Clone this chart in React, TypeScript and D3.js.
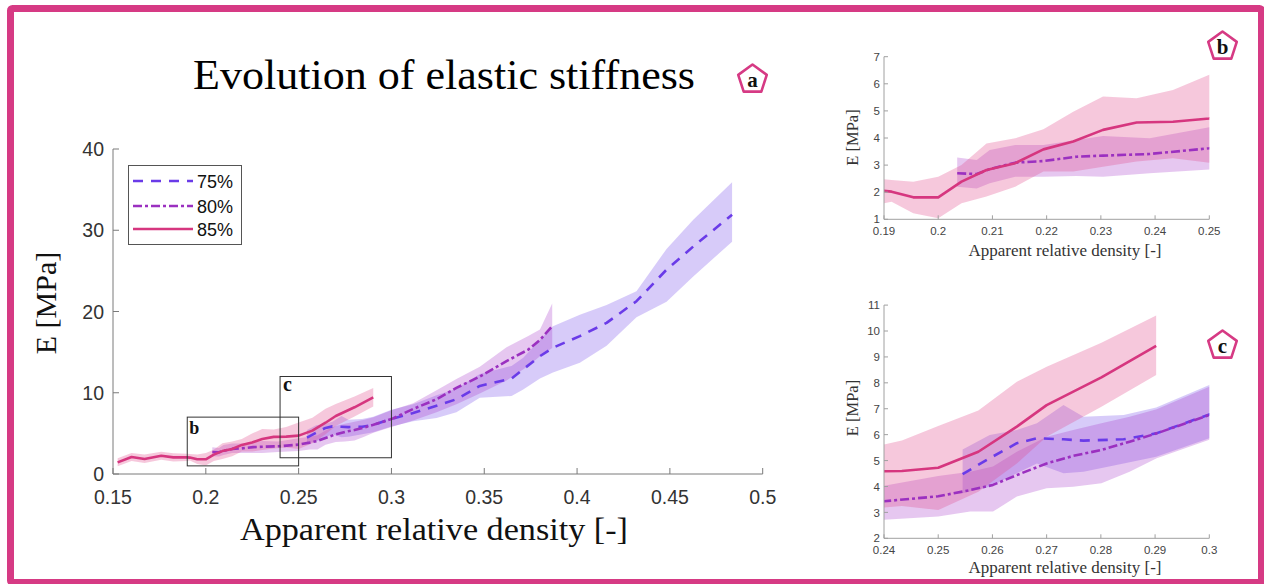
import React from 'react';
import * as d3 from 'd3';

// ---------- data ----------
const rho85 = [0.1525,0.16,0.167,0.176,0.1825,0.19,0.1914,0.1954,0.2,0.2043,0.2089,0.2142,0.2194,0.2249,0.2304,0.2366,0.2433,0.25,0.2574,0.2645,0.27,0.2801,0.2902];
const E85 = [1.43,2.1,1.84,2.25,2.05,2.05,2.02,1.81,1.81,2.39,2.82,3.07,3.58,3.87,4.30,4.57,4.60,4.72,5.34,6.31,7.14,8.21,9.43];
const hi85 = [1.95,2.6,2.4,2.75,2.55,2.48,2.45,2.39,2.57,3.0,3.8,3.99,4.32,4.97,5.53,5.47,5.77,6.33,6.93,8.04,8.62,9.55,10.6];
const lo85 = [0.95,1.6,1.35,1.75,1.55,1.59,1.65,1.22,1.04,1.59,1.84,2.2,2.76,2.76,2.94,3.13,3.25,3.09,3.8,4.89,5.92,7.08,8.3];

const rho80 = [0.2035,0.2071,0.2095,0.2142,0.2194,0.2255,0.2304,0.239,0.25,0.2559,0.2601,0.2645,0.27,0.2749,0.2801,0.2853,0.2903,0.3,0.3117,0.3243,0.335,0.3476,0.362,0.3737,0.38,0.3866];
const E80 = [2.70,2.67,2.85,3.09,3.15,3.31,3.35,3.41,3.62,3.86,4.06,4.44,4.89,5.18,5.41,5.73,6.05,6.76,8.0,9.2,10.6,12.0,13.9,15.3,16.5,18.2];
const hi80 = [3.28,3.19,3.56,3.74,3.74,3.93,4.07,3.99,4.4,4.57,4.77,5.34,5.92,6.18,6.44,6.69,6.98,7.85,8.7,10.3,11.7,13.2,15.6,17.0,17.8,21.0];
const lo80 = [2.2,2.14,2.33,2.57,2.57,2.6,2.57,2.7,2.84,3.03,3.03,3.61,3.93,3.99,4.12,4.57,5.09,5.8,6.6,7.6,8.6,9.9,11.5,13.3,14.5,15.5];

const rho75 = [0.2545,0.2595,0.2645,0.2682,0.2731,0.2768,0.2842,0.2902,0.3,0.3117,0.3243,0.335,0.3476,0.3647,0.371,0.38,0.387,0.4015,0.4159,0.432,0.4482,0.4626,0.4835];
const E75 = [4.48,5.09,5.67,5.86,5.82,5.77,5.82,6.05,6.78,7.5,8.4,9.2,10.84,11.74,12.88,14.5,15.54,16.97,18.6,21.27,25.15,28.0,31.9];
const hi75 = [5.43,5.99,6.18,6.44,7.14,6.69,6.76,7.05,7.92,8.6,9.7,10.5,12.3,13.3,14.3,16.5,18.2,19.6,20.8,22.5,27.7,31.3,35.9];
const lo75 = [3.74,3.99,4.51,4.89,4.51,4.57,4.89,5.15,5.86,6.5,6.9,7.6,9.4,9.6,10.4,11.75,12.5,13.7,15.8,19.3,21.2,24.3,28.6];

const seriesLabels = ['75%', '80%', '85%'];
const mainXTicks = [0.15, 0.2, 0.25, 0.3, 0.35, 0.4, 0.45, 0.5];
const mainYTicks = [0, 10, 20, 30, 40];
const bXTicks = [0.19, 0.2, 0.21, 0.22, 0.23, 0.24, 0.25];
const bYTicks = [1, 2, 3, 4, 5, 6, 7];
const cXTicks = [0.24, 0.25, 0.26, 0.27, 0.28, 0.29, 0.3];
const cYTicks = [2, 3, 4, 5, 6, 7, 8, 9, 10, 11];

// ---------- styles ----------
const PINK = '#d6367f';
const FRAME = '#d63a84';
type Pt = { v: number; e: number; hi: number; lo: number };
const zip = (r: number[], e: number[], hi: number[], lo: number[]): Pt[] =>
  r.map((v, i) => ({ v, e: e[i], hi: hi[i], lo: lo[i] }));

const SERIES = [
  { label: seriesLabels[0], pts: zip(rho75, E75, hi75, lo75), color: '#6a3be8', band: '#6a3de8', bandOp: 0.27, dash: '10,8' },
  { label: seriesLabels[1], pts: zip(rho80, E80, hi80, lo80), color: '#9b30c0', band: '#a435c8', bandOp: 0.28, dash: '9,3,3,3' },
  { label: seriesLabels[2], pts: zip(rho85, E85, hi85, lo85), color: PINK, band: '#e04a8a', bandOp: 0.3, dash: '' },
];

const fmt = (v: number) => String(+v.toFixed(2));
const SANS = "'Liberation Sans', Arial, Helvetica, sans-serif";
const SERIF = "'Liberation Serif', 'Times New Roman', serif";

type PanelProps = {
  id: string;
  xr: [number, number];
  yr: [number, number];
  xd: [number, number];
  yd: [number, number];
  xt: number[];
  yt: number[];
  fs: number;
  tickLen: number;
  labelGapY: number;
  labelDy: number;
  axisColor: string;
  labelColor: string;
  lw: number;
  clip: boolean;
};

function Panel(p: PanelProps) {
  const x = d3.scaleLinear().domain(p.xd).range(p.xr);
  const y = d3.scaleLinear().domain(p.yd).range(p.yr);
  const area = d3.area<Pt>().x(d => x(d.v)).y0(d => y(d.lo)).y1(d => y(d.hi));
  const line = d3.line<Pt>().x(d => x(d.v)).y(d => y(d.e));
  const clipId = `clip-${p.id}`;
  return (
    <g>
      <defs>
        <clipPath id={clipId}>
          <rect x={p.xr[0]} y={p.yr[1]} width={p.xr[1] - p.xr[0]} height={p.yr[0] - p.yr[1]} />
        </clipPath>
      </defs>
      <g clipPath={p.clip ? `url(#${clipId})` : undefined}>
        {SERIES.map(s => (
          <path key={'b' + s.label} d={area(s.pts) || ''} fill={s.band} fillOpacity={s.bandOp} stroke="none" />
        ))}
        {SERIES.map(s => (
          <path key={'l' + s.label} d={line(s.pts) || ''} fill="none" stroke={s.color} strokeWidth={p.lw}
            strokeDasharray={s.dash || undefined} strokeLinejoin="round" />
        ))}
      </g>
      {/* axes */}
      <line x1={p.xr[0]} x2={p.xr[0]} y1={p.yr[0]} y2={p.yr[1]} stroke={p.axisColor} strokeWidth={1} />
      <line x1={p.xr[0]} x2={p.xr[1]} y1={p.yr[0]} y2={p.yr[0]} stroke={p.axisColor} strokeWidth={1} />
      {p.yt.map(t => (
        <g key={'yt' + t}>
          <line x1={p.xr[0]} x2={p.xr[0] + p.tickLen} y1={y(t)} y2={y(t)} stroke={p.axisColor} strokeWidth={1} />
          <text x={p.xr[0] - p.labelGapY} y={y(t) + p.fs * 0.36} textAnchor="end" fontFamily={SANS}
            fontSize={p.fs} fill={p.labelColor}>{t}</text>
        </g>
      ))}
      {p.xt.map(t => (
        <g key={'xt' + t}>
          <line x1={x(t)} x2={x(t)} y1={p.yr[0]} y2={p.yr[0] - p.tickLen} stroke={p.axisColor} strokeWidth={1} />
          <text x={x(t)} y={p.yr[0] + p.labelDy} textAnchor="middle" fontFamily={SANS}
            fontSize={p.fs} fill={p.labelColor}>{fmt(t)}</text>
        </g>
      ))}
    </g>
  );
}

function Badge({ cx, cy, r, letter }: { cx: number; cy: number; r: number; letter: string }) {
  const pts = d3.range(5).map(i => {
    const a = (-90 + i * 72) * Math.PI / 180;
    return [cx + r * Math.cos(a), cy + r * Math.sin(a)];
  });
  return (
    <g>
      <polygon points={pts.map(q => q.join(',')).join(' ')} fill="#fff" stroke={FRAME} strokeWidth={2.6} strokeLinejoin="round" />
      <text x={cx} y={cy + 7} textAnchor="middle" fontFamily={SERIF} fontWeight="bold" fontSize={21} fill="#111">{letter}</text>
    </g>
  );
}

export default function App() {
  // main axes geometry
  const mainX: [number, number] = [113, 762.7];
  const mainY: [number, number] = [474, 149];
  const mx = d3.scaleLinear().domain([0.15, 0.5]).range(mainX);
  const my = d3.scaleLinear().domain([0, 40]).range(mainY);

  const boxB = { x0: 0.19, x1: 0.25, y0: 1, y1: 7 };
  const boxC = { x0: 0.24, x1: 0.3, y0: 2, y1: 12 };

  const legendY = [181, 206, 229];

  return (
    <svg width={1264} height={584} style={{ position: 'fixed', left: 0, top: 0, background: '#fff' }}>
      <rect x={0} y={0} width={1264} height={584} fill="#fff" />
      {/* frame */}
      <rect x={10.5} y={8.5} width={1251} height={574} fill="none" stroke={FRAME} strokeWidth={7} rx={2} />

      {/* title */}
      <text x={193} y={89} fontFamily={SERIF} fontSize={42} fill="#000" textLength={502} lengthAdjust="spacingAndGlyphs">
        Evolution of elastic stiffness
      </text>
      <Badge cx={752.5} cy={79.5} r={15} letter="a" />

      {/* main panel */}
      <Panel id="main" xr={mainX} yr={mainY} xd={[0.15, 0.5]} yd={[0, 40]} xt={mainXTicks} yt={mainYTicks}
        fs={19.5} tickLen={6} labelGapY={9} labelDy={29.5} axisColor="#7a7a7a" labelColor="#333" lw={2.6} clip={false} />

      {/* zoom boxes */}
      <rect x={mx(boxB.x0)} y={my(boxB.y1)} width={mx(boxB.x1) - mx(boxB.x0)} height={my(boxB.y0) - my(boxB.y1)}
        fill="none" stroke="#333" strokeWidth={1} />
      <rect x={mx(boxC.x0)} y={my(boxC.y1)} width={mx(boxC.x1) - mx(boxC.x0)} height={my(boxC.y0) - my(boxC.y1)}
        fill="none" stroke="#333" strokeWidth={1} />
      <text x={mx(boxB.x0) + 2} y={my(boxB.y1) + 17} fontFamily={SERIF} fontWeight="bold" fontSize={18} fill="#111">b</text>
      <text x={mx(boxC.x0) + 3} y={my(boxC.y1) + 14} fontFamily={SERIF} fontWeight="bold" fontSize={20} fill="#111">c</text>

      {/* legend */}
      <rect x={128.5} y={165.5} width={113} height={79} fill="#fff" stroke="#555" strokeWidth={1} />
      {SERIES.map((s, i) => (
        <g key={'lg' + s.label}>
          <line x1={133} x2={193} y1={legendY[i]} y2={legendY[i]} stroke={s.color} strokeWidth={2.6}
            strokeDasharray={s.dash || undefined} />
          <text x={197} y={legendY[i] + 6.5} fontFamily={SANS} fontSize={18} fill="#111">{s.label}</text>
        </g>
      ))}

      {/* main axis labels */}
      <text x={240} y={540} fontFamily={SERIF} fontSize={31} fill="#111" textLength={388} lengthAdjust="spacingAndGlyphs">
        Apparent relative density [-]
      </text>
      <text transform="translate(56,303) rotate(-90)" textAnchor="middle" fontFamily={SERIF} fontSize={30} fill="#111">
        E [MPa]
      </text>

      {/* inset b */}
      <Panel id="b" xr={[884, 1209.3]} yr={[219.3, 56.7]} xd={[0.19, 0.25]} yd={[1, 7]} xt={bXTicks} yt={bYTicks}
        fs={11.5} tickLen={4} labelGapY={4} labelDy={15.7} axisColor="#a0a0a0" labelColor="#444" lw={2.6} clip={true} />
      <text x={1065} y={256} textAnchor="middle" fontFamily={SERIF} fontSize={16} fill="#333" textLength={193} lengthAdjust="spacingAndGlyphs">
        Apparent relative density [-]
      </text>
      <text transform="translate(858,137.5) rotate(-90)" textAnchor="middle" fontFamily={SERIF} fontSize={16.5} fill="#333">
        E [MPa]
      </text>
      <Badge cx={1222.5} cy={46.5} r={15} letter="b" />

      {/* inset c */}
      <Panel id="c" xr={[884, 1209.3]} yr={[538.3, 305.1]} xd={[0.24, 0.3]} yd={[2, 11]} xt={cXTicks} yt={cYTicks}
        fs={11.5} tickLen={4} labelGapY={4} labelDy={15.7} axisColor="#a0a0a0" labelColor="#444" lw={2.6} clip={true} />
      <text x={1065} y={573} textAnchor="middle" fontFamily={SERIF} fontSize={16} fill="#333" textLength={193} lengthAdjust="spacingAndGlyphs">
        Apparent relative density [-]
      </text>
      <text transform="translate(858,408) rotate(-90)" textAnchor="middle" fontFamily={SERIF} fontSize={16.5} fill="#333">
        E [MPa]
      </text>
      <Badge cx={1222.5} cy={345.5} r={15} letter="c" />
    </svg>
  );
}
